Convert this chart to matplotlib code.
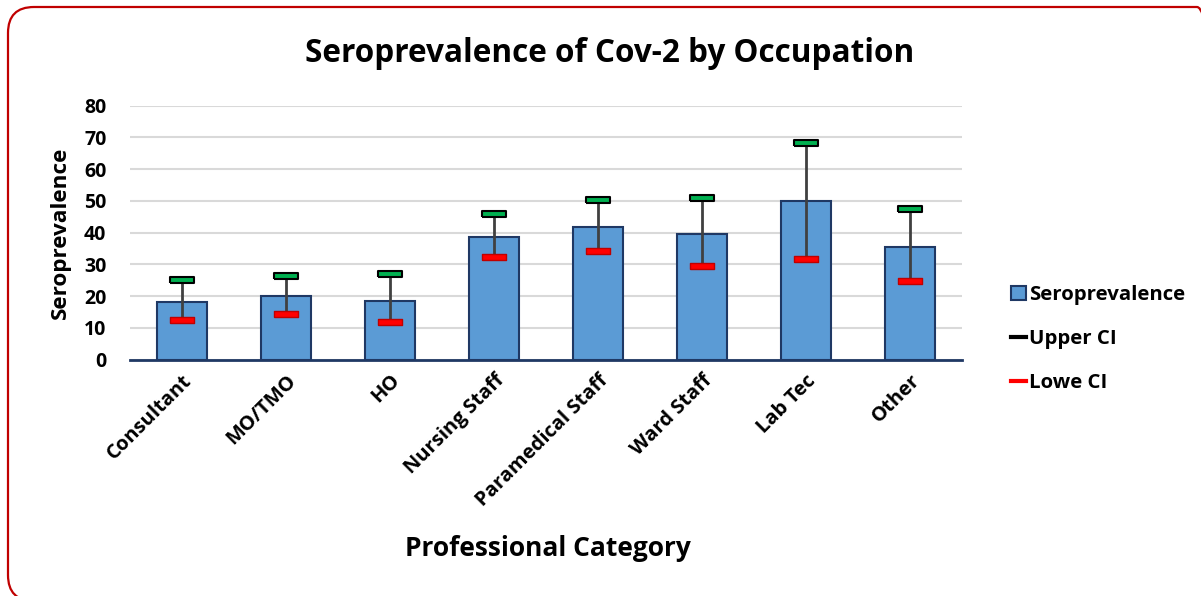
import matplotlib
matplotlib.use("Agg")
import matplotlib.pyplot as plt
from matplotlib.patches import FancyBboxPatch, Patch
from matplotlib.lines import Line2D

categories = ["Consultant", "MO/TMO", "HO", "Nursing Staff", "Paramedical Staff",
              "Ward Staff", "Lab Tec", "Other"]
seroprevalence = [18.2, 19.9, 18.4, 38.7, 41.9, 39.7, 50.0, 35.5]
upper_ci = [25.2, 26.4, 26.9, 45.8, 50.2, 50.8, 68.2, 47.5]
lower_ci = [12.5, 14.4, 11.7, 32.3, 34.2, 29.5, 31.8, 24.9]
yticks = [0, 10, 20, 30, 40, 50, 60, 70, 80]

FONT = ["Open Sans", "DejaVu Sans"]
plt.rcParams["font.family"] = FONT
plt.rcParams["font.weight"] = "bold"

W, H = 1201, 596
fig = plt.figure(figsize=(W / 100, H / 100), dpi=100)

# rounded border
border = FancyBboxPatch((8, -5), 1215, 594, boxstyle="round,pad=0,rounding_size=26",
                        transform=None, fill=False, edgecolor="#C00000", linewidth=1.6)
fig.patches.append(border)

ax = fig.add_axes([130 / W, (H - 359.5) / H, 832 / W, 253.8 / H])
x = list(range(len(categories)))

ax.set_axisbelow(True)
ax.yaxis.grid(True, color="#D9D9D9", linewidth=1.5)
ax.bar(x, seroprevalence, width=0.48, color="#5B9BD5", edgecolor="#1F3864", linewidth=1.5, zorder=2)
ax.vlines(x, lower_ci, upper_ci, color="#404040", linewidth=2, zorder=3)

rect = [(-1, -0.22), (1, -0.22), (1, 0.22), (-1, 0.22), (-1, -0.22)]
ax.plot(x, upper_ci, linestyle="none", marker=rect, markersize=17, markerfacecolor="#00B050",
        markeredgecolor="black", markeredgewidth=1.5, zorder=4)
ax.plot(x, lower_ci, linestyle="none", marker=rect, markersize=17, markerfacecolor="#FF0000",
        markeredgecolor="#C00000", markeredgewidth=1.0, zorder=4)

ax.set_xlim(-0.5, len(categories) - 0.5)
ax.set_ylim(0, 80)
ax.set_yticks(yticks)
ax.set_yticklabels([str(v) for v in yticks], fontsize=14, fontweight="bold")
ax.set_xticks(x)
ax.set_xticklabels(categories, rotation=45, ha="right", va="top", rotation_mode="anchor",
                   fontsize=14.5, fontweight="bold")
ax.tick_params(axis="y", length=0, pad=17)
ax.tick_params(axis="x", length=0, pad=8)
for s in ["top", "right", "left"]:
    ax.spines[s].set_visible(False)
ax.spines["bottom"].set_color("#1F3864")
ax.spines["bottom"].set_linewidth(2)
ax.spines["bottom"].set_zorder(5)

fig.text(610 / W, 1 - 53 / H, "Seroprevalence of Cov-2 by Occupation", ha="center", va="center",
         fontsize=22.7, fontweight="bold")
fig.text(60 / W, 1 - 233 / H, "Seroprevalence", rotation=90, ha="center", va="center",
         fontsize=16.2, fontweight="bold")
fig.text(548 / W, 1 - 549 / H, "Professional Category", ha="center", va="center",
         fontsize=19, fontweight="bold")

handles = [Patch(facecolor="#5B9BD5", edgecolor="#1F3864", linewidth=1.5),
           Line2D([0], [0], color="black", linewidth=3),
           Line2D([0], [0], color="#FF0000", linewidth=3)]
fig.legend(handles, ["Seroprevalence", "Upper CI", "Lowe CI"], loc="upper left",
           bbox_to_anchor=(993 / W, 1 - 267 / H), frameon=False,
           prop={"size": 14.7, "weight": "bold"}, handlelength=0.72, handletextpad=0.15,
           labelspacing=1.17)

fig.savefig("out.png", dpi=100)
